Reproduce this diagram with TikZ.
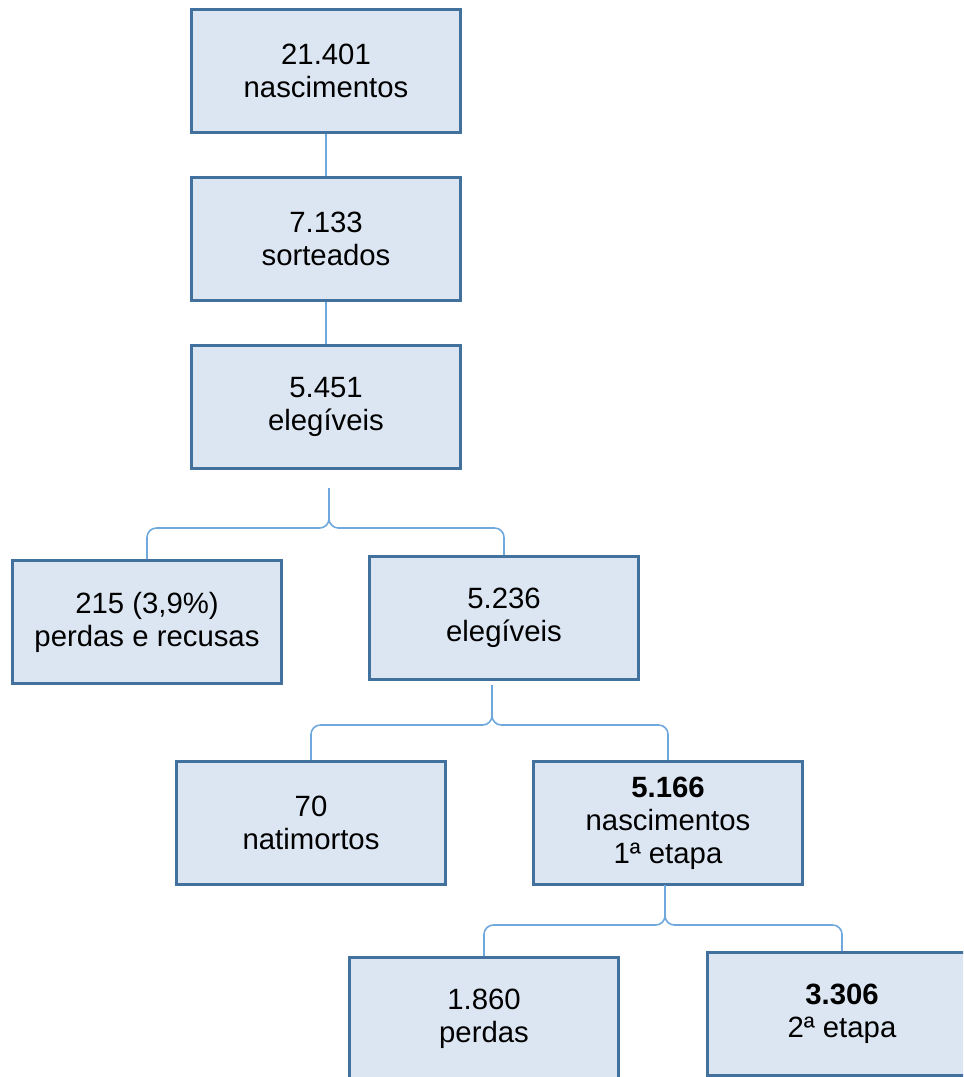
\documentclass[tikz,border=0pt]{standalone}
\usepackage{fontspec}
\setmainfont{Liberation Sans}
\usepackage{tikz}
\usetikzlibrary{positioning}
\definecolor{boxfill}{HTML}{DCE6F2}
\definecolor{boxline}{HTML}{41719C}
\definecolor{linkclr}{HTML}{6FA8DC}

\begin{document}
\begin{tikzpicture}[x=0.75pt, y=-0.75pt,
    box/.style={draw=boxline, fill=boxfill, line width=2.2pt, minimum width=202pt, minimum height=92pt,
        align=center, font=\fontsize{22}{24.75}\selectfont},
    conn/.style={draw=linkclr, line width=1.2pt},
    brace/.style={conn, rounded corners=7pt}]
                \useasboundingbox (0,0) rectangle (963,1077);
                \clip (0,0) rectangle (963,1077);

                \node[box] (nasc) at (326,71) {21.401\\nascimentos};
                \node[box] (sort) at (326,239) {7.133\\sorteados};
                \node[box] (eleg) at (326,407) {5.451\\elegíveis};
                \node[box] (recusa) at (147,622) {215 (3,9\%)\\perdas e recusas};
                \node[box] (eleg2) at (504,618) {5.236\\elegíveis};
                \node[box] (nati) at (311,823) {70\\natimortos};
                \node[box] (etapa1) at (668,823) {\textbf{5.166}\\nascimentos\\1ª etapa};
                \node[box] (perdas) at (484,1019) {1.860\\perdas};
                \node[box] (etapa2) at (842,1014) {\textbf{3.306}\\2ª etapa};

                \draw[conn] (nasc) -- (sort);
                \draw[conn] (sort) -- (eleg);

                % chaves
                \coordinate (t1) at (329,488);
                \coordinate (t2) at (492,685);
                \coordinate (t3) at (665,885);
                \foreach \t/\l/\r in {t1/recusa/eleg2, t2/nati/etapa1, t3/perdas/etapa2}{
                  \draw[brace] (\l.north) |- ([yshift=-30pt]\t) -- (\t);
                  \draw[brace] (\r.north) |- ([yshift=-30pt]\t) -- (\t);
                }
\end{tikzpicture}
\end{document}
